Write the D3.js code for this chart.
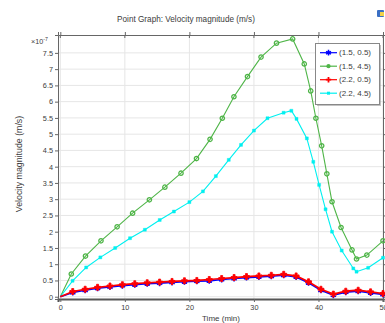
<!DOCTYPE html>
<html><head><meta charset="utf-8">
<script src="https://cdn.jsdelivr.net/npm/d3@7"></script>
<style>body{margin:0;background:#fff}svg{display:block}text{font-family:"Liberation Sans",Arial,sans-serif;fill:#3c3c3c;-webkit-font-smoothing:antialiased}</style>
</head><body><svg id="c" width="385" height="323"></svg>
<script>
const seriesNames = ["(1.5, 0.5)", "(1.5, 4.5)", "(2.2, 0.5)", "(2.2, 4.5)"];
const seriesColors = ["#0000ff", "#4fb548", "#ff0000", "#00f0f0"];
const timeFine = d3.range(27).map(k => k * 50 / 26);
const blueVals = [0,0.13,0.20,0.26,0.30,0.34,0.37,0.40,0.42,0.44,0.46,0.48,0.49,0.53,0.56,0.59,0.61,0.63,0.66,0.61,0.43,0.20,0.05,0.14,0.17,0.12,0.07];
const redVals  = [0,0.16,0.23,0.29,0.33,0.37,0.40,0.43,0.45,0.47,0.49,0.50,0.53,0.56,0.59,0.62,0.64,0.66,0.69,0.64,0.46,0.23,0.08,0.17,0.20,0.15,0.10];
const greenTime = [0,1.7,3.9,6.3,8.8,11.2,13.8,16.2,18.7,21.1,23.2,25.1,26.9,29.0,31.1,33.5,36.0,37.8,38.8,39.6,40.5,41.3,42.1,43.5,45.2,45.9,47.5,50];
const greenVals = [0,0.70,1.25,1.72,2.15,2.57,2.98,3.37,3.80,4.25,4.84,5.49,6.15,6.77,7.37,7.80,7.93,7.16,6.33,5.49,4.64,3.78,2.92,2.13,1.44,1.16,1.28,1.72];
const cyanTime = [0,1.9,4.0,6.2,8.5,10.8,13.1,15.4,17.6,20.0,22.1,24.1,26.1,28.0,30.0,32.1,34.6,35.8,36.6,38.2,39.2,40.1,41.1,42.1,43.6,45.4,45.9,47.7,50];
const cyanVals = [0,0.49,0.90,1.21,1.50,1.80,2.06,2.36,2.62,2.91,3.24,3.71,4.21,4.67,5.11,5.49,5.66,5.72,5.47,4.87,4.15,3.44,2.69,2.00,1.42,0.87,0.77,0.89,1.20];
const xTicks = [0,10,20,30,40,50];
const yTicks = [0,0.5,1,1.5,2,2.5,3,3.5,4,4.5,5,5.5,6,6.5,7,7.5];

const series = [
  {name: seriesNames[0], color: seriesColors[0], t: timeFine, v: blueVals, marker: "star"},
  {name: seriesNames[1], color: seriesColors[1], t: greenTime, v: greenVals, marker: "circle"},
  {name: seriesNames[2], color: seriesColors[2], t: timeFine, v: redVals, marker: "plus"},
  {name: seriesNames[3], color: seriesColors[3], t: cyanTime, v: cyanVals, marker: "square"}
];

const L = 58, R = 383, T = 35, B = 299;
const svg = d3.select("#c");
const x = d3.scaleLinear().domain([-0.36, 50]).range([L, R]);
const y = d3.scaleLinear().domain([-0.07, 8.05]).range([B, T]);

// grid
const g = svg.append("g");
g.selectAll(".gx").data(xTicks).join("line").attr("x1", d => x(d)).attr("x2", d => x(d)).attr("y1", T).attr("y2", B).attr("stroke", "#e6e6e6").attr("stroke-width", 1);
g.selectAll(".gy").data(yTicks).join("line").attr("x1", L).attr("x2", R).attr("y1", d => y(d)).attr("y2", d => y(d)).attr("stroke", "#e6e6e6").attr("stroke-width", 1);

// axes
const ax = svg.append("g").attr("transform", `translate(0,${B})`).call(d3.axisBottom(x).tickValues(xTicks).tickSize(3).tickPadding(3));
const ay = svg.append("g").attr("transform", `translate(${L},0)`).call(d3.axisLeft(y).tickValues(yTicks).tickSize(3).tickPadding(2).tickFormat(d3.format("")));
const axT = svg.append("g").attr("transform", `translate(0,${T})`).call(d3.axisTop(x).tickValues(xTicks).tickSize(3).tickFormat(""));
const ayR = svg.append("g").attr("transform", `translate(${R},0)`).call(d3.axisRight(y).tickValues(yTicks).tickSize(3).tickFormat(""));
[ax, ay, axT, ayR].forEach(a => {
  a.select(".domain").attr("stroke", "#666");
  a.selectAll(".tick line").attr("stroke", "#666");
  a.selectAll("text").attr("fill", "#3c3c3c").style("font-size", "7.3px").style("font-family", "Liberation Sans, Arial, sans-serif");
});
ax.select(".domain").attr("stroke", "#555").attr("stroke-width", 2);
svg.append("g").selectAll("line").data(xTicks).join("line").attr("x1", d => x(d)).attr("x2", d => x(d)).attr("y1", T).attr("y2", T + 3).attr("stroke", "#666");

// lines
svg.append("clipPath").attr("id", "clp").append("rect").attr("x", L).attr("y", T - 5).attr("width", R - L + 2).attr("height", B - T + 5);
const plot = svg.append("g").attr("clip-path", "url(#clp)");
const line = d3.line().x(d => x(d[0])).y(d => y(d[1]));
function drawMarker(sel, s) {
  if (s.marker === "star") sel.attr("d", d3.symbol(d3.symbolAsterisk, 26)()).attr("fill", "none").attr("stroke", s.color).attr("stroke-width", 1.5);
  else if (s.marker === "circle") sel.attr("d", d3.symbol(d3.symbolCircle, 15)()).attr("fill", "none").attr("stroke", s.color).attr("stroke-width", 1.3);
  else if (s.marker === "plus") sel.attr("d", d3.symbol(d3.symbolCross, 20)()).attr("fill", s.color).attr("stroke", s.color).attr("stroke-width", 0.8);
  else sel.attr("d", d3.symbol(d3.symbolSquare, 9)()).attr("fill", s.color).attr("stroke", s.color).attr("stroke-width", 0.4);
}
const order = [1, 3, 0, 2];
order.forEach(i => {
  const s = series[i];
  const pts = s.t.map((t, j) => [t, s.v[j]]);
  plot.append("path").attr("d", line(pts)).attr("fill", "none").attr("stroke", s.color).attr("stroke-width", (i === 0 || i === 2) ? 1.7 : 1.1);
  plot.selectAll(null).data(pts.slice(1)).join("path").attr("transform", d => `translate(${x(d[0])},${y(d[1])})`).call(drawMarker, s);
});

// title & labels
svg.append("text").attr("x", 186).attr("y", 22).attr("text-anchor", "middle").style("font-size", "8.2px").text("Point Graph: Velocity magnitude (m/s)");
svg.append("text").attr("x", 221).attr("y", 321).attr("text-anchor", "middle").style("font-size", "8px").text("Time (min)");
svg.append("text").attr("transform", "translate(22,164) rotate(-90)").attr("text-anchor", "middle").style("font-size", "8.8px").text("Velocity magnitude (m/s)");
const ex = svg.append("text").attr("x", 31).attr("y", 44).style("font-size", "7.2px");
ex.append("tspan").text("×10");
ex.append("tspan").attr("dy", -3).style("font-size", "5.2px").text("-7");

// legend
const lg = svg.append("g");
lg.append("rect").attr("x", 317).attr("y", 45).attr("width", 64).attr("height", 61).attr("fill", "#999").attr("opacity", 0.6);
lg.append("rect").attr("x", 315.5).attr("y", 43.5).attr("width", 64).attr("height", 61).attr("fill", "#fff").attr("stroke", "#888").attr("stroke-width", 1);
series.forEach((s, i) => {
  const yy = 52.7 + i * 13.5;
  lg.append("line").attr("x1", 320).attr("x2", 337).attr("y1", yy).attr("y2", yy).attr("stroke", s.color).attr("stroke-width", 1.2);
  const m = lg.append("path").attr("transform", `translate(328.5,${yy})`);
  if (s.marker === "circle") m.attr("d", d3.symbol(d3.symbolCircle, 14)()).attr("fill", s.color);
  else if (s.marker === "star") m.attr("d", d3.symbol(d3.symbolAsterisk, 22)()).attr("fill", "none").attr("stroke", s.color).attr("stroke-width", 1.5);
  else if (s.marker === "plus") m.attr("d", d3.symbol(d3.symbolCross, 16)()).attr("fill", s.color);
  else m.attr("d", d3.symbol(d3.symbolSquare, 9)()).attr("fill", s.color);
  lg.append("text").attr("x", 339).attr("y", yy + 2.7).style("font-size", "8px").text(s.name);
});

// small toolbar icon
svg.append("rect").attr("x", 377).attr("y", 10).attr("width", 7).attr("height", 7).attr("fill", "#3a6fc4").attr("rx", 1);
svg.append("rect").attr("x", 380).attr("y", 12).attr("width", 4).attr("height", 4).attr("fill", "#f2d24a");
</script></body></html>
